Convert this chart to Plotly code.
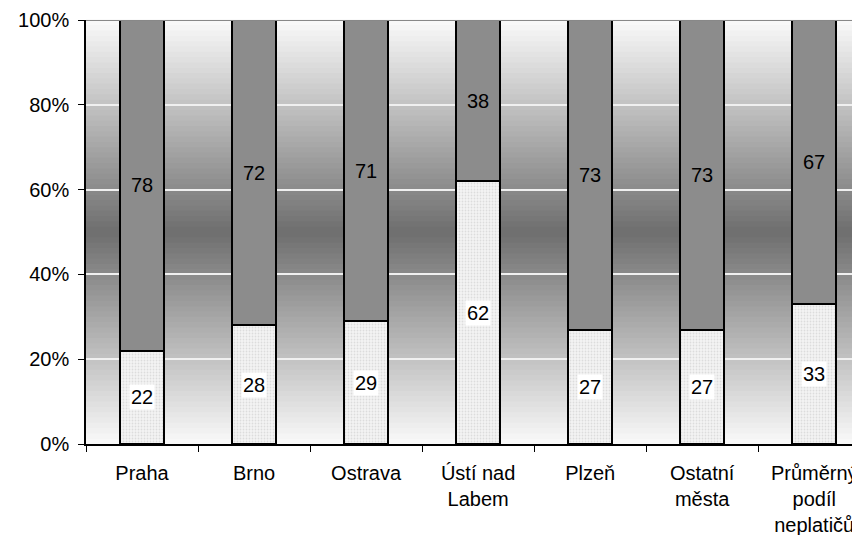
import plotly.graph_objects as go

categories = ["Praha", "Brno", "Ostrava", "Ústí nad<br>Labem", "Plzeň",
              "Ostatní<br>města", "Průměrný<br>podíl<br>neplatičů"]
lower_values = [22, 28, 29, 62, 27, 27, 33]
upper_values = [78, 72, 71, 38, 73, 73, 67]
y_ticks = [0, 20, 40, 60, 80, 100]
y_tick_labels = ["0%", "20%", "40%", "60%", "80%", "100%"]

FONT = "Liberation Sans, Arial, sans-serif"
FS = 20

fig = go.Figure()
fig.add_trace(go.Bar(
    x=categories, y=lower_values, width=0.39,
    marker=dict(color="white",
                pattern=dict(shape=".", fgcolor="#c4c4c4", bgcolor="#f4f4f4",
                             size=3, solidity=0.3),
                line=dict(color="black", width=2)),
    hoverinfo="skip"))
fig.add_trace(go.Bar(
    x=categories, y=upper_values, width=0.39,
    marker=dict(color="#8c8c8c", line=dict(color="black", width=2)),
    hoverinfo="skip"))

# gradient background (styling)
n = 80
shapes = []
for i in range(n):
    t0 = i / n
    t1 = (i + 1) / n
    tm = (t0 + t1) / 2
    d = abs(tm - 0.5) * 2
    g = int(round(110 + (250 - 110) * d))
    shapes.append(dict(type="rect", xref="x domain", yref="y domain",
                       x0=0, x1=1, y0=t0, y1=t1 + 0.002, layer="below",
                       line=dict(width=0), fillcolor=f"rgb({g},{g},{g})"))
shapes.append(dict(type="line", xref="x domain", yref="y", x0=0, x1=1,
                   y0=100, y1=100, line=dict(color="#888888", width=2),
                   layer="above"))
fig.update_layout(shapes=shapes)

annotations = []
for c, lo, up in zip(categories, lower_values, upper_values):
    annotations.append(dict(x=c, y=lo / 2, text=str(lo), showarrow=False,
                            bgcolor="white", borderpad=1,
                            font=dict(family=FONT, size=FS, color="black")))
    annotations.append(dict(x=c, y=lo + up / 2, text=str(up), showarrow=False,
                            bgcolor="#8c8c8c", borderpad=1,
                            font=dict(family=FONT, size=FS, color="black")))
fig.update_layout(annotations=annotations)

fig.update_layout(
    barmode="stack", showlegend=False,
    width=860, height=535,
    margin=dict(l=78, r=0, t=12, b=99),
    paper_bgcolor="white", plot_bgcolor="white",
    font=dict(family=FONT, size=FS, color="black"),
    bargap=0.61,
)
fig.update_xaxes(range=[-0.5, 6.48], showline=True, linecolor="black",
                 linewidth=1.5, ticks="outside", tickson="boundaries",
                 ticklen=6, tickcolor="black", showgrid=False,
                 ticklabelstandoff=10,
                 tickfont=dict(family=FONT, size=FS, color="black"),
                 fixedrange=True)
fig.update_yaxes(range=[0, 100], tickmode="array", tickvals=y_ticks,
                 ticktext=y_tick_labels,
                 showline=True, linecolor="black", linewidth=1.5,
                 ticks="outside", ticklen=6, tickcolor="black",
                 showgrid=True, gridcolor="#f0f0f0", gridwidth=1.5,
                 zeroline=False, ticklabelstandoff=5,
                 tickfont=dict(family=FONT, size=FS, color="black"),
                 fixedrange=True)

fig.write_html("out.html")
